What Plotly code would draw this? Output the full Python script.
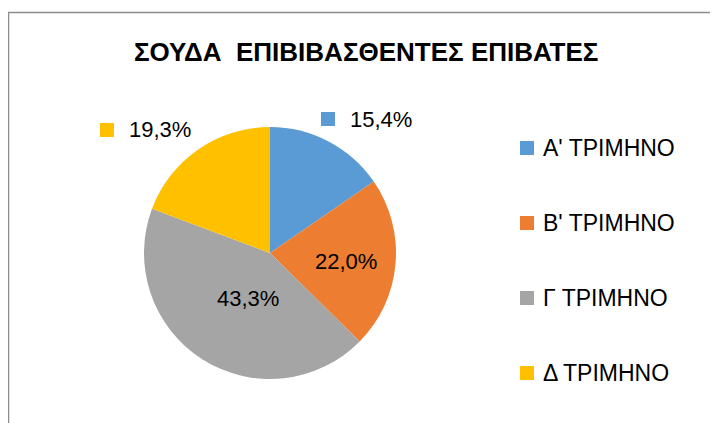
import plotly.graph_objects as go

categories = ["Α' ΤΡΙΜΗΝΟ", "Β' ΤΡΙΜΗΝΟ", "Γ ΤΡΙΜΗΝΟ", "Δ ΤΡΙΜΗΝΟ"]
values = [15.4, 22.0, 43.3, 19.3]
colors = ["#5B9BD5", "#ED7D31", "#A5A5A5", "#FFC000"]
title_text = "ΣΟΥΔΑ  ΕΠΙΒΙΒΑΣΘΕΝΤΕΣ ΕΠΙΒΑΤΕΣ"

W, H = 718, 423
OFF = 8  # page body margin
FONT = "Liberation Sans Narrow, Liberation Sans, Arial, sans-serif"

def px(x):
    return (x - OFF) / W

def py(y):
    return 1 - (y - OFF) / H

fig = go.Figure()
fig.add_trace(go.Pie(
    labels=categories,
    values=values,
    marker=dict(colors=colors, line=dict(width=0)),
    sort=False,
    direction="clockwise",
    rotation=0,
    textinfo="none",
    hoverinfo="label+percent",
    showlegend=False,
    domain=dict(x=[px(144), px(396)], y=[py(379), py(127)]),
))

def fmt(v):
    return f"{v:.1f}%".replace(".", ",")

# data label positions (pixels) ; outside labels have a colour key square
label_pos = [(381, 119, True), (346, 261, False), (248, 298, False), (160, 130, True)]
annotations = []
shapes = []
for i, (x, y, key) in enumerate(label_pos):
    annotations.append(dict(x=px(x), y=py(y), xref="paper", yref="paper",
                            text=fmt(values[i]), showarrow=False,
                            font=dict(family=FONT, size=22, color="#000000"),
                            xanchor="center", yanchor="middle"))
    if key:
        sx = x - 53
        shapes.append(dict(type="rect", xref="paper", yref="paper",
                           x0=px(sx - 7), x1=px(sx + 7), y0=py(y + 7), y1=py(y - 7),
                           fillcolor=colors[i], line=dict(width=0)))

# legend
leg_y = [148, 223, 298, 373]
for i, cat in enumerate(categories):
    y = leg_y[i]
    shapes.append(dict(type="rect", xref="paper", yref="paper",
                       x0=px(520), x1=px(534), y0=py(y + 7), y1=py(y - 7),
                       fillcolor=colors[i], line=dict(width=0)))
    annotations.append(dict(x=px(541), y=py(y), xref="paper", yref="paper",
                            text=cat, showarrow=False,
                            font=dict(family=FONT, size=23, color="#000000"),
                            xanchor="left", yanchor="middle"))

# title
annotations.append(dict(x=px(366), y=py(52), xref="paper", yref="paper",
                        text="<b>" + title_text + "</b>", showarrow=False,
                        font=dict(family=FONT, size=26, color="#000000"),
                        xanchor="center", yanchor="middle"))

# chart frame (left and top edges visible)
shapes.append(dict(type="path", xref="paper", yref="paper",
                   path=f"M {px(8.5)} {py(H + 20)} L {px(8.5)} {py(12.5)} L {px(W + 20)} {py(12.5)}",
                   line=dict(color="#8C8C8C", width=1.5)))

fig.update_layout(
    width=W, height=H,
    margin=dict(l=0, r=0, t=0, b=0),
    paper_bgcolor="#FFFFFF",
    plot_bgcolor="#FFFFFF",
    annotations=annotations,
    shapes=shapes,
)

fig.write_html("out.html")
